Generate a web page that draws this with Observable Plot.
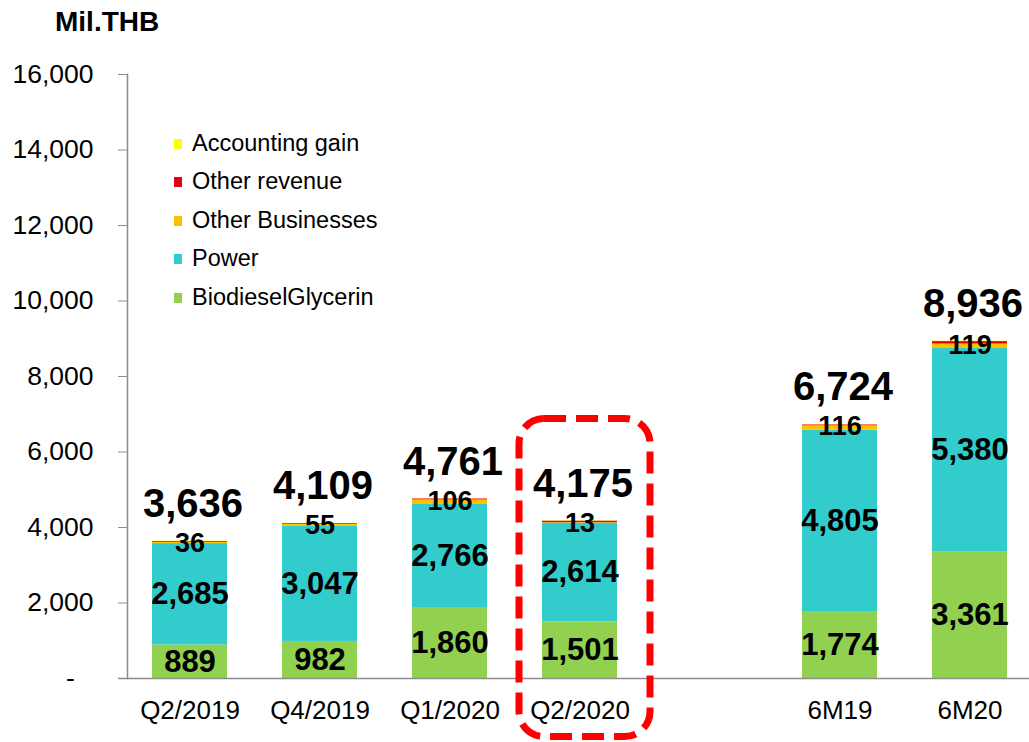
<!DOCTYPE html>
<html>
<head>
<meta charset="utf-8">
<script src="https://cdn.jsdelivr.net/npm/d3@7"></script>
<script src="https://cdn.jsdelivr.net/npm/@observablehq/plot@0.6"></script>
<style>
  html, body { margin: 0; padding: 0; background: #fff; }
  #wrap { position: relative; width: 1029px; height: 742px; font-family: "Liberation Sans", Arial, sans-serif; }
  #title { position: absolute; left: 55px; top: 8px; font-size: 28px; font-weight: bold; line-height: 28px; color: #000; }
  .leg { position: absolute; left: 174px; font-size: 23.5px; line-height: 23.5px; color: #000; white-space: nowrap; }
  .sw { position: absolute; left: 0; width: 8px; height: 10px; }
  .lt { position: absolute; left: 18px; top: 0; }
</style>
</head>
<body>
<div id="wrap">
  <div id="chart"></div>
  <div id="title">Mil.THB</div>
  <div id="legend"></div>
</div>
<script>
// ---- data ----
const categories = ["Q2/2019", "Q4/2019", "Q1/2020", "Q2/2020", "6M19", "6M20"];
const biodieselGlycerin = [889, 982, 1860, 1501, 1774, 3361];
const power = [2685, 3047, 2766, 2614, 4805, 5380];
const otherBusinesses = [36, 55, 106, 13, 116, 119];
const otherRevenue = [20, 20, 25, 40, 23, 65];
const accountingGain = [6, 5, 4, 7, 6, 11];
const totals = [3636, 4109, 4761, 4175, 6724, 8936];
const seriesNames = ["BiodieselGlycerin", "Power", "Other Businesses", "Other revenue", "Accounting gain"];
const seriesColors = ["#92D050", "#33CCCC", "#FFC000", "#E3000F", "#FFFF00"];
const yTicks = [0, 2000, 4000, 6000, 8000, 10000, 12000, 14000, 16000];
const highlightCategory = "Q2/2020";

// ---- derived tables ----
const GAP = " ";
const xDomain = [...categories.slice(0, 4), GAP, ...categories.slice(4)];
const seriesValues = [biodieselGlycerin, power, otherBusinesses, otherRevenue, accountingGain];
const long = [];
seriesNames.forEach((s, si) => {
  categories.forEach((c, ci) => long.push({category: c, series: s, value: seriesValues[si][ci]}));
});
const fmt = d3.format(",");
const segLabels = [];
const obLabels = [];
const totalLabels = [];
categories.forEach((c, i) => {
  const b = biodieselGlycerin[i], p = power[i], o = otherBusinesses[i];
  segLabels.push({category: c, y: b / 2, text: fmt(b)});
  segLabels.push({category: c, y: b + p / 2, text: fmt(p)});
  obLabels.push({category: c, y: b + p + o, text: fmt(o)});
  totalLabels.push({category: c, y: totals[i], text: fmt(totals[i])});
});
const hi = [{category: highlightCategory, y1: -1550, y2: 6874}];

const chart = Plot.plot({
  width: 1029,
  height: 742,
  marginTop: 74,
  marginBottom: 64,
  marginLeft: 127,
  marginRight: 0,
  style: {fontFamily: "'Liberation Sans', Arial, sans-serif", background: "#fff", overflow: "visible"},
  x: {domain: xDomain, paddingInner: 0.4231, paddingOuter: 0.1806, align: 0.54, axis: null, label: null},
  y: {domain: [0, 16000], axis: null, label: null},
  color: {domain: seriesNames, range: seriesColors},
  marks: [
    Plot.barY(long, {x: "category", y: "value", fill: "series", order: null}),
    Plot.text(segLabels, {x: "category", y: "y", text: "text", fontSize: 31, fontWeight: "bold", fill: "#000"}),
    Plot.text(obLabels, {x: "category", y: "y", text: "text", fontSize: 27, fontWeight: "bold", fill: "#000", dy: 1}),
    Plot.text(totalLabels, {x: "category", y: "y", text: "text", fontSize: 40, fontWeight: "bold", fill: "#000", dy: -37, dx: 3}),
    Plot.frame({anchor: "left", stroke: "#8c8c8c", strokeWidth: 1.5}),
    Plot.ruleY([0], {stroke: "#8c8c8c", strokeWidth: 1.5, insetLeft: -9}),
    Plot.axisY({ticks: yTicks, tickSize: 9, tickPadding: 25, fontSize: 26.5, stroke: "#8c8c8c", fill: "#000", label: null,
      tickFormat: d => d === 0 ? "-\u2002\u2009" : fmt(d)}),
    Plot.axisX({tickSize: 0, tickPadding: 22, fontSize: 26, fill: "#000", label: null,
      tickFormat: d => d === GAP ? "" : d}),
    Plot.barY(hi, {x: "category", y1: "y1", y2: "y2", fill: "none", stroke: "#FF0000", strokeWidth: 7,
      strokeDasharray: "22,10", rx: 25, insetLeft: -23, insetRight: -33})
  ]
});
document.getElementById("chart").appendChild(chart);

// ---- legend (top-down order as in reference) ----
const legend = document.getElementById("legend");
const legendOrder = [4, 3, 2, 1, 0];
legendOrder.forEach((si, k) => {
  const item = document.createElement("div");
  item.className = "leg";
  item.style.top = (131.5 + 38.5 * k) + "px";
  item.innerHTML = `<span class="sw" style="background:${seriesColors[si]};top:7px"></span><span class="lt">${seriesNames[si]}</span>`;
  legend.appendChild(item);
});
</script>
</body>
</html>
